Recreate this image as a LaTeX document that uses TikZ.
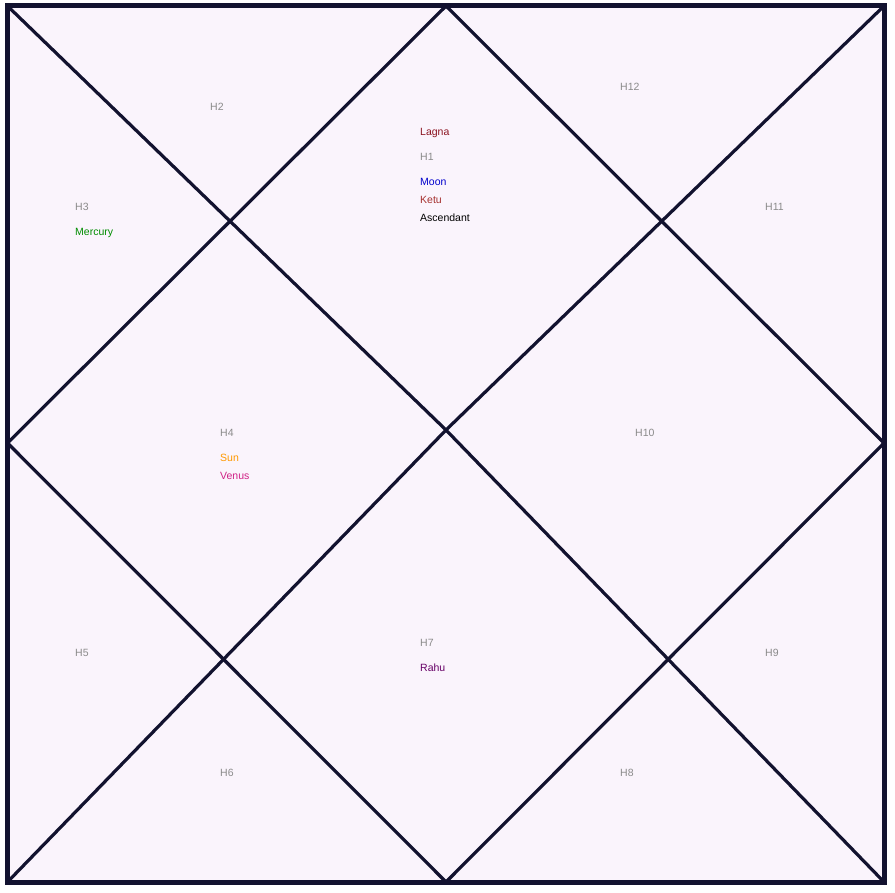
\documentclass[tikz,border=0pt]{standalone}
\usepackage{fontspec}
\setmainfont{Liberation Sans}
\usetikzlibrary{positioning, calc}
\definecolor{chartbg}{HTML}{FAF4FC}
\definecolor{chartink}{HTML}{12122F}
\definecolor{housegray}{HTML}{8A8A8A}
\definecolor{ketubrown}{HTML}{A5302E}
\definecolor{lagnared}{HTML}{8B1420}
\tikzset{
    frame/.style={draw=chartink, line width=5pt, fill=chartbg},
    divider/.style={draw=chartink, line width=3.2pt},
    house/.style={anchor=base west, inner sep=0pt, font=\fontsize{10.5}{12}\selectfont, text=housegray},
    planet/.style={house, text=#1}
}

\begin{document}
\begin{tikzpicture}[x=1pt, y=-1pt]
    \useasboundingbox (0,0) rectangle (895,893);

    % Corners, midpoints and the centre of the chart
    \coordinate (nw) at (7.5,6);
    \coordinate (ne) at (884,6);
    \coordinate (se) at (884,882);
    \coordinate (sw) at (7.5,882);
    \coordinate (top) at (446,6);
    \coordinate (rgt) at (884,443);
    \coordinate (bot) at (446,882);
    \coordinate (lft) at (7.5,443);
    \coordinate (mid) at (446,430);

    % Frame
    \path [frame] (nw) rectangle (se);

    % Diagonals
    \draw [divider] (nw) -- (mid);
    \draw [divider] (ne) -- (mid);
    \draw [divider] (sw) -- (mid);
    \draw [divider] (se) -- (mid);

    % Diamond
    \draw [divider] (top) -- (rgt) -- (bot) -- (lft) -- cycle;

    % Houses
    \node (h1) [house] at (420,161) {H1};
    \node (h2) [house] at (210,111) {H2};
    \node (h3) [house] at (75,211) {H3};
    \node (h4) [house] at (220,436) {H4};
    \node (h5) [house] at (75,656) {H5};
    \node (h6) [house] at (220,776) {H6};
    \node (h7) [house] at (420,646) {H7};
    \node (h8) [house] at (620,776) {H8};
    \node (h9) [house] at (765,656) {H9};
    \node (h10) [house] at (635,436) {H10};
    \node (h11) [house] at (765,211) {H11};
    \node (h12) [house] at (620,91) {H12};

    % Planets
    \node (lagna) [planet=lagnared] at (420,136) {Lagna};
    \node (moon) [planet=blue!80!black] at (420,186) {Moon};
    \node (ketu) [planet=ketubrown] at (420,204) {Ketu};
    \node (asc) [planet=black] at (420,222) {Ascendant};
    \node (mercury) [planet=green!55!black] at (75,236) {Mercury};
    \node (sun) [planet={orange!80!yellow}] at (220,461) {Sun};
    \node (venus) [planet={magenta!85!black}] at (220,479) {Venus};
    \node (rahu) [planet=violet!80!black] at (420,671) {Rahu};
\end{tikzpicture}
\end{document}
